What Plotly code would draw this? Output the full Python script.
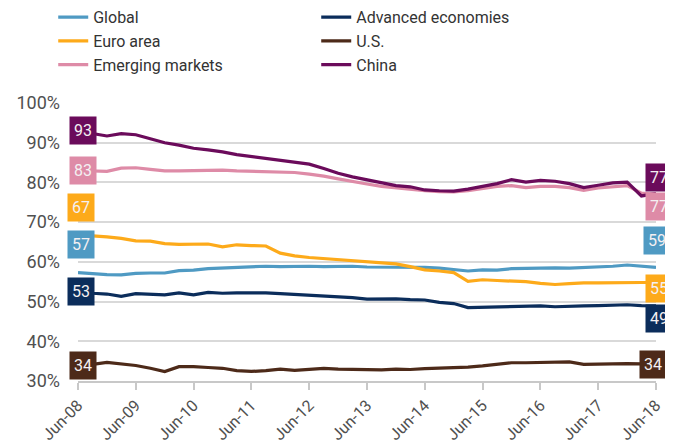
import pandas as pd
import plotly.graph_objects as go

# quarterly observations, Jun-08 .. Jun-18
dates = pd.date_range("2008-06-01", "2018-06-01", freq="3MS")

global_share = [57.3, 57.0, 56.8, 56.7, 57.1, 57.2, 57.2, 57.8, 57.9, 58.3, 58.4,
                58.7, 58.8, 58.9, 58.8, 58.9, 58.9, 58.8, 58.9, 58.9, 58.7, 58.7,
                58.8, 58.7, 58.6, 58.4, 58.1, 57.7, 58.0, 57.9, 58.3, 58.4, 58.5,
                58.5, 58.4, 58.5, 58.6, 58.9, 59.2, 58.9, 58.6]
advanced = [52.6, 52.1, 51.9, 51.3, 52.0, 51.9, 51.7, 52.2, 51.7, 52.3, 52.1,
            52.2, 52.3, 52.2, 52.0, 51.8, 51.6, 51.4, 51.3, 51.0, 50.6, 50.7,
            50.7, 50.5, 50.4, 49.8, 49.5, 48.5, 48.6, 48.7, 48.9, 49.0, 48.9,
            48.7, 48.7, 48.9, 49.0, 49.1, 49.2, 49.0, 48.9]
euro_area = [66.8, 66.6, 66.3, 65.9, 65.3, 65.2, 64.6, 64.4, 64.4, 64.5, 63.8,
             64.3, 64.1, 64.0, 62.2, 61.5, 61.1, 60.8, 60.5, 60.2, 59.9, 59.7,
             59.5, 58.8, 58.0, 57.7, 57.3, 55.1, 55.5, 55.3, 55.2, 55.0, 54.6,
             54.3, 54.5, 54.7, 54.7, 54.8, 54.9, 54.8, 54.8]
us = [33.9, 34.2, 34.7, 34.4, 33.9, 33.2, 32.4, 33.6, 33.6, 33.4, 33.2,
      32.6, 32.4, 32.6, 33.0, 32.7, 33.0, 33.2, 33.0, 32.9, 33.0, 32.8,
      33.0, 32.9, 33.1, 33.2, 33.3, 33.5, 33.8, 34.3, 34.6, 34.6, 34.7,
      34.6, 34.8, 34.2, 34.3, 34.3, 34.4, 34.3, 34.2]
emerging = [83.0, 82.8, 82.8, 83.6, 83.7, 83.3, 82.9, 82.9, 83.0, 83.0, 83.1,
            82.9, 82.8, 82.7, 82.6, 82.5, 82.1, 81.6, 80.9, 80.2, 79.6, 79.0,
            78.6, 78.3, 77.9, 77.7, 77.6, 77.9, 78.4, 79.0, 79.2, 78.7, 79.0,
            79.0, 78.7, 78.0, 78.6, 79.0, 79.2, 77.3, 77.0]
china = [92.9, 92.3, 91.7, 92.3, 92.0, 91.0, 90.0, 89.4, 88.6, 88.2, 87.7,
         87.0, 86.5, 86.0, 85.6, 85.1, 84.6, 83.5, 82.3, 81.4, 80.6, 79.8,
         79.2, 78.9, 78.1, 77.9, 77.8, 78.3, 78.9, 79.7, 80.7, 80.1, 80.5,
         80.3, 79.7, 78.7, 79.3, 79.9, 80.1, 76.6, 77.2]

tick_dates = pd.date_range("2008-06-01", "2018-06-01", freq="12MS")

FONT = "Roboto, Arial, sans-serif"

# name, values, colour, (xshift, yshift) for start label, (xshift, yshift) for end label
series = [
    ("Global", global_share, "#4f9ac3", (3, 28), (1, 27)),
    ("Advanced economies", advanced, "#0b2d5b", (3, 0), (3, -13)),
    ("Euro area", euro_area, "#fdaa1a", (3, 27), (3, -6)),
    ("U.S.", us, "#4d2a19", (5, 0), (-3, 0)),
    ("Emerging markets", emerging, "#de8ba7", (5, 0), (3, -12)),
    ("China", china, "#6b0b5b", (5, 1), (3, 16)),
]

fig = go.Figure()

for name, vals, color, start_shift, end_shift in series:
    fig.add_trace(go.Scatter(x=dates, y=vals, name=name, mode="lines",
                             line=dict(color=color, width=3.2),
                             hovertemplate="%{x|%b-%y}: %{y:.1f}%<extra>" + name + "</extra>"))
    for idx, (xs, ys) in ((0, start_shift), (-1, end_shift)):
        fig.add_annotation(x=dates[idx], y=vals[idx], xref="x", yref="y",
                           text=f"{vals[idx]:.0f}", showarrow=False,
                           xshift=xs, yshift=ys, bgcolor=color,
                           width=22, height=23, borderpad=2,
                           font=dict(family=FONT, size=16, color="#f4f0f2"))

# page body adds an 8px margin, so the figure is 8px smaller than the window
fig.update_layout(
    width=665, height=438,
    margin=dict(l=70, r=17, t=95, b=65, autoexpand=False),
    plot_bgcolor="white", paper_bgcolor="white",
    font=dict(family=FONT, size=17, color="#404040"),
    legend=dict(orientation="h", xref="container", x=0.068, xanchor="left",
                y=1.37, yanchor="top",
                entrywidth=218, tracegroupgap=0,
                font=dict(family=FONT, size=16, color="#333333"),
                bgcolor="rgba(0,0,0,0)"),
    xaxis=dict(type="date", range=[dates[0], dates[-1]], tickvals=tick_dates,
               tickformat="%b-%y", tickangle=-45, showgrid=False, zeroline=False,
               showline=True, linecolor="#c8c8c8", linewidth=1.5,
               ticks="outside", ticklen=7, tickcolor="#c8c8c8", tickwidth=1.5,
               ticklabelstandoff=0, automargin=False,
               tickfont=dict(size=16, color="#505050")),
    yaxis=dict(range=[30, 100], dtick=10, ticksuffix="%", showgrid=True,
               gridcolor="#d9d9d9", gridwidth=1.5, zeroline=False,
               ticklabelstandoff=17, automargin=False,
               tickfont=dict(size=18, color="#505050")),
)

fig.write_html("out.html")
